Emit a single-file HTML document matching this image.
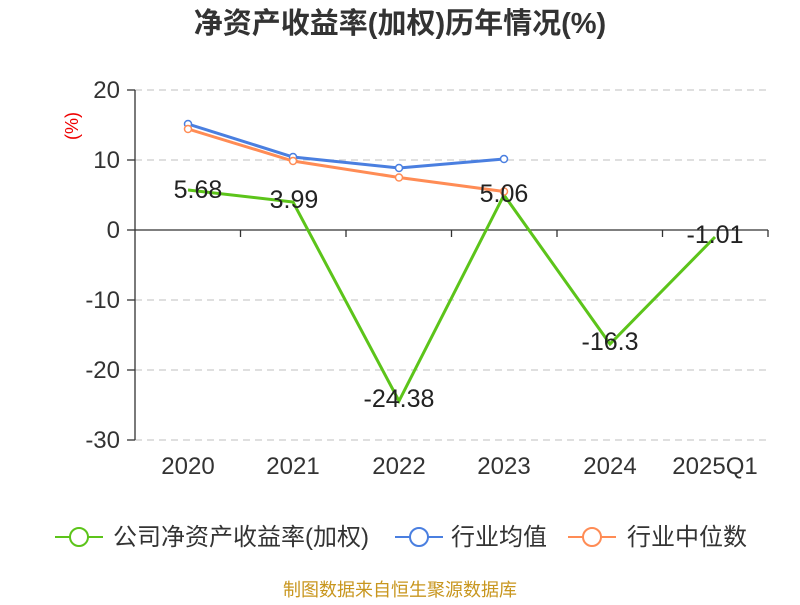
<!DOCTYPE html>
<html><head><meta charset="utf-8"><style>
body{margin:0;background:#fff;}
svg text{font-family:"Liberation Sans","Noto Sans CJK SC",sans-serif;}
</style></head><body>
<svg width="800" height="600" viewBox="0 0 800 600" xmlns="http://www.w3.org/2000/svg">
<text x="400" y="33" text-anchor="middle" font-size="29" font-weight="bold" fill="#333">净资产收益率(加权)历年情况(%)</text>
<g stroke="#ccc" stroke-width="1.2" stroke-dasharray="7,5">
<line x1="135" y1="90" x2="768" y2="90"/><line x1="135" y1="160" x2="768" y2="160"/>
<line x1="135" y1="300" x2="768" y2="300"/><line x1="135" y1="370" x2="768" y2="370"/><line x1="135" y1="440" x2="768" y2="440"/>
</g>
<g stroke="#333" stroke-width="1.3">
<line x1="135" y1="90" x2="135" y2="440"/>
<line x1="127" y1="90" x2="135" y2="90"/><line x1="127" y1="160" x2="135" y2="160"/><line x1="127" y1="230" x2="135" y2="230"/><line x1="127" y1="300" x2="135" y2="300"/><line x1="127" y1="370" x2="135" y2="370"/><line x1="127" y1="440" x2="135" y2="440"/>
<line x1="135" y1="230" x2="768" y2="230"/>
<line x1="240.5" y1="230" x2="240.5" y2="237"/><line x1="346" y1="230" x2="346" y2="237"/><line x1="451.5" y1="230" x2="451.5" y2="237"/><line x1="557" y1="230" x2="557" y2="237"/><line x1="662.5" y1="230" x2="662.5" y2="237"/><line x1="768" y1="230" x2="768" y2="237"/>
</g>
<g font-size="24" fill="#333" text-anchor="end">
<text x="120" y="98">20</text><text x="120" y="168">10</text><text x="120" y="238">0</text><text x="120" y="308">-10</text><text x="120" y="378">-20</text><text x="120" y="448">-30</text>
</g>
<text x="78" y="126" font-size="18" fill="#e00" transform="rotate(-90 78 126)" text-anchor="middle">(%)</text>
<g font-size="24" fill="#333" text-anchor="middle">
<text x="188" y="474">2020</text><text x="293" y="474">2021</text><text x="399" y="474">2022</text><text x="504" y="474">2023</text><text x="610" y="474">2024</text><text x="715" y="474">2025Q1</text>
</g>
<polyline points="188,124 293,157 399,168 504,159" fill="none" stroke="#4a7fe0" stroke-width="3"/>
<polyline points="188,129 293,161 399,177.5 504,191.5" fill="none" stroke="#ff8c55" stroke-width="3"/>
<polyline points="188,190 293,202 399,401 504,195 610,344 715,237" fill="none" stroke="#5cc41a" stroke-width="3"/>
<g fill="#fff" stroke-width="1.5">
<circle cx="188" cy="124" r="3.5" stroke="#4a7fe0"/><circle cx="293" cy="157" r="3.5" stroke="#4a7fe0"/><circle cx="399" cy="168" r="3.5" stroke="#4a7fe0"/><circle cx="504" cy="159" r="3.5" stroke="#4a7fe0"/>
<circle cx="188" cy="129" r="3.5" stroke="#ff8c55"/><circle cx="293" cy="161" r="3.5" stroke="#ff8c55"/><circle cx="399" cy="177.5" r="3.5" stroke="#ff8c55"/><circle cx="504" cy="191.5" r="3.5" stroke="#ff8c55"/>
</g>
<g font-size="25" fill="#222" text-anchor="middle">
<text x="198" y="198">5.68</text><text x="294" y="208">3.99</text><text x="399" y="407">-24.38</text><text x="504" y="202">5.06</text><text x="610" y="350">-16.3</text><text x="715" y="243">-1.01</text>
</g>
<g stroke-width="2" fill="#fff">
<line x1="55" y1="537" x2="103" y2="537" stroke="#5cc41a"/><circle cx="79" cy="537" r="9" stroke="#5cc41a"/>
<line x1="395" y1="537" x2="443" y2="537" stroke="#4a7fe0"/><circle cx="419" cy="537" r="9" stroke="#4a7fe0"/>
<line x1="568" y1="537" x2="616" y2="537" stroke="#ff8c55"/><circle cx="592" cy="537" r="9" stroke="#ff8c55"/>
</g>
<g font-size="24" fill="#333">
<text x="113" y="545">公司净资产收益率(加权)</text><text x="451" y="545">行业均值</text><text x="627" y="545">行业中位数</text>
</g>
<text x="400" y="596" text-anchor="middle" font-size="18" fill="#c8961e">制图数据来自恒生聚源数据库</text>
</svg>
</body></html>
